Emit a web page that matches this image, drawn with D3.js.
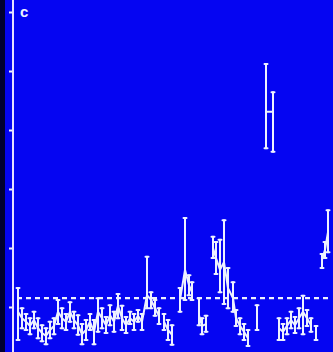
<!DOCTYPE html>
<html>
<head>
<meta charset="utf-8">
<script src="https://cdn.jsdelivr.net/npm/d3@7"></script>
<style>
  html, body { margin: 0; padding: 0; background: #000030; }
  svg { display: block; }
</style>
</head>
<body>
<svg id="chart" width="333" height="352"></svg>
<script>
// Sample position along the record, mean value and error-bar limits
const sample = [1,2,3,4,5,6,7,8,9,10,11,12,13,14,15,16,17,18,19,20,21,22,23,24,25,26,27,28,29,30,31,32,
  33.25,34.25,35.25,36.25, 37.5,38.5,39.5, 41.5,42.75,43.75,44.5, 46.25,47,48,
  49.75,50.5,51.5,52.5,53.5,54.75,55.5,56.5,57.5,58.5, 60.75, 63,64.75,
  66.25,67.25,68.25,69.25,70.25,71.25,72.25,73.25,74.25, 75.5, 77,77.75,78.5];
const mean = [0.92,0.81,0.75,0.68,0.78,0.64,0.56,0.51,0.61,0.68,0.92,0.81,0.75,0.92,0.78,0.69,0.54,0.61,0.75,0.58,0.92,0.81,0.69,0.86,0.75,1.02,0.81,0.69,0.81,0.75,0.85,0.75,
  1.20,1.12,0.98,0.85, 0.75,0.61,0.53, 1.12,1.63,1.37,1.25, 0.86,0.68,0.71,
  2.00,1.83,1.63,1.76,1.32,1.15,0.81,0.68,0.58,0.47, 0.81, 4.31,4.31,
  0.64,0.58,0.68,0.78,0.69,0.81,0.92,0.81,0.69, 0.58, 1.80,1.97,2.27];
const upper = [1.32,0.98,0.88,0.81,0.92,0.81,0.69,0.64,0.75,0.81,1.12,0.98,0.88,1.08,0.92,0.86,0.71,0.78,0.88,0.78,1.15,0.98,0.83,1.03,0.92,1.22,1.02,0.83,0.92,0.88,0.95,0.88,
  1.85,1.25,1.12,0.98, 0.88,0.78,0.69, 1.32,2.51,1.54,1.42, 1.15,0.81,0.85,
  2.19,2.10,2.14,2.47,1.66,1.42,0.95,0.81,0.71,0.61, 1.03, 5.12,4.64,
  0.81,0.71,0.81,0.92,0.83,0.98,1.19,0.95,0.81, 0.68, 1.90,2.10,2.64];
const lower = [0.44,0.64,0.61,0.54,0.64,0.47,0.42,0.37,0.47,0.54,0.71,0.64,0.61,0.75,0.64,0.53,0.37,0.44,0.61,0.37,0.58,0.64,0.56,0.69,0.58,0.81,0.61,0.56,0.71,0.61,0.75,0.61,
  0.98,0.98,0.85,0.71, 0.61,0.44,0.36, 0.92,1.12,1.20,1.12, 0.69,0.54,0.58,
  1.83,1.56,1.25,1.05,0.98,0.92,0.68,0.54,0.44,0.34, 0.61, 3.69,3.63,
  0.44,0.44,0.54,0.64,0.56,0.64,0.54,0.68,0.58, 0.44, 1.66,1.83,1.93];
// Consecutive samples sharing a run id are joined by a line
const run = [1,1,1,1,1,1,1,1,1,1,1,1,1,1,1,1,1,1,1,1,1,1,1,1,1,1,1,1,1,1,1,1,
  1,1,1,1, 2,2,2, 3,3,3,3, 4,4,4,
  5,5,5,5,5,5,5,5,5,5, 6, 7,7,
  8,8,8,8,8,8,8,8,8, 9, 10,10,10];
const yTicks = [1, 2, 3, 4, 5, 6];
const threshold = 1.15;
const panelLabel = "c";

const W = 333, H = 352;
const svg = d3.select("#chart");
const ink = "#eef2ff";

// panel background
svg.append("rect").attr("x", 5).attr("y", 0).attr("width", W - 5).attr("height", H)
  .attr("fill", "#0505f2");

const x = d3.scaleLinear().domain([0, 80]).range([14, 334]);
const y = d3.scaleLinear().domain([0, 6]).range([366, 12]);

const pts = sample.map((s, i) => ({ s, m: mean[i], lo: lower[i], hi: upper[i], run: run[i] }));

// left axis
const axis = svg.append("g").attr("transform", "translate(13,0)")
  .call(d3.axisLeft(y).tickValues(yTicks).tickSize(4).tickFormat(""));
axis.select(".domain").remove();
axis.selectAll(".tick line").attr("stroke", ink).attr("stroke-width", 2);
svg.append("line").attr("x1", 13).attr("x2", 13).attr("y1", 0).attr("y2", H)
  .attr("stroke", "#e6e0ff").attr("stroke-width", 2);

// dashed reference level
svg.append("line")
  .attr("x1", 17).attr("x2", 331)
  .attr("y1", y(threshold)).attr("y2", y(threshold))
  .attr("stroke", ink).attr("stroke-width", 2.2).attr("stroke-dasharray", "5,4");

const marks = svg.append("g").attr("stroke", ink).attr("fill", "none")
  .attr("stroke-width", 2).attr("stroke-linecap", "round");

// connecting lines per run
const line = d3.line().x(d => x(d.s)).y(d => y(d.m));
d3.groups(pts, d => d.run).forEach(([, g]) => {
  if (g.length > 1) marks.append("path").attr("d", line(g));
});

// error bars with caps
const eb = marks.selectAll("g.eb").data(pts).join("g").attr("class", "eb");
eb.append("line").attr("x1", d => x(d.s)).attr("x2", d => x(d.s))
  .attr("y1", d => y(d.hi)).attr("y2", d => y(d.lo));
eb.append("line").attr("x1", d => x(d.s) - 1.5).attr("x2", d => x(d.s) + 1.5)
  .attr("y1", d => y(d.hi)).attr("y2", d => y(d.hi));
eb.append("line").attr("x1", d => x(d.s) - 1.5).attr("x2", d => x(d.s) + 1.5)
  .attr("y1", d => y(d.lo)).attr("y2", d => y(d.lo));

// panel letter
svg.append("text").attr("x", 20).attr("y", 17).text(panelLabel)
  .attr("fill", ink).attr("font-family", "Liberation Sans, Arial, sans-serif")
  .attr("font-weight", "bold").attr("font-size", 15);
</script>
</body>
</html>
